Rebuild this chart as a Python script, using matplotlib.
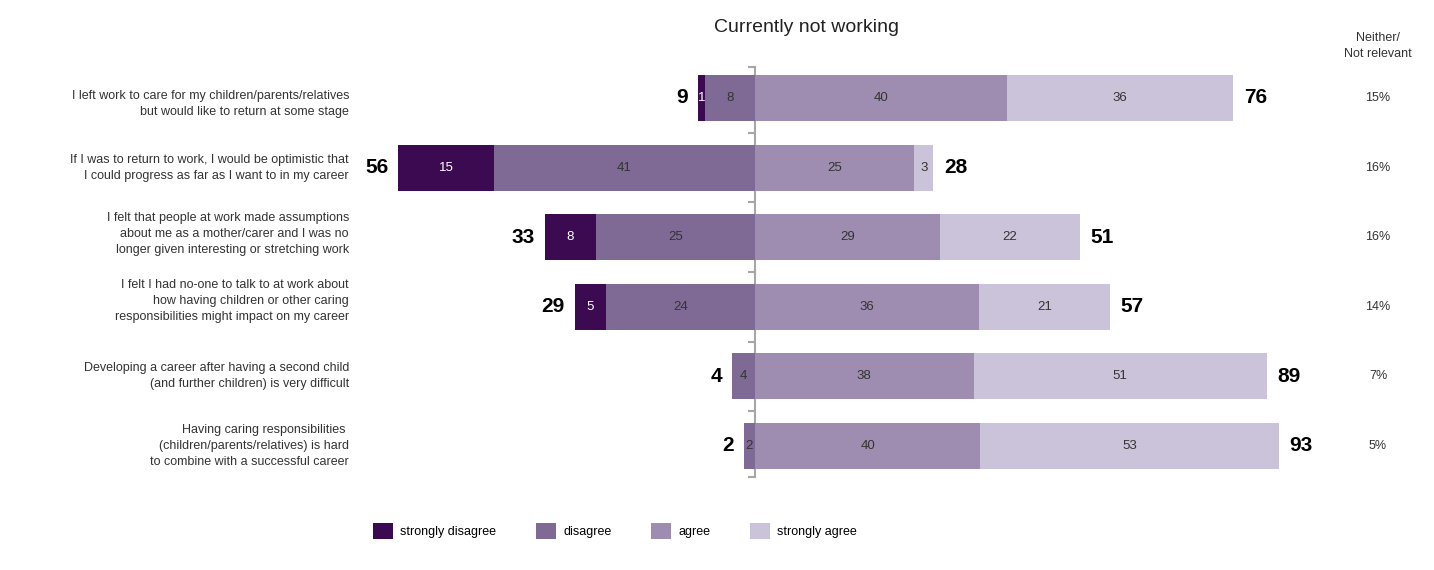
import matplotlib
matplotlib.use('Agg')
import matplotlib.pyplot as plt
from matplotlib.patches import Patch
import numpy as np

plt.rcParams['font.family'] = ['Liberation Sans', 'DejaVu Sans']

# survey statements, top to bottom
statements = [
    "I left work to care for my children/parents/relatives\nbut would like to return at some stage",
    "If I was to return to work, I would be optimistic that\nI could progress as far as I want to in my career",
    "I felt that people at work made assumptions\nabout me as a mother/carer and I was no\nlonger given interesting or stretching work",
    "I felt I had no-one to talk to at work about\nhow having children or other caring\nresponsibilities might impact on my career",
    "Developing a career after having a second child\n(and further children) is very difficult",
    "Having caring responsibilities \n(children/parents/relatives) is hard\nto combine with a successful career",
]
strongly_disagree = [1, 15, 8, 5, 0, 0]
disagree = [8, 41, 25, 24, 4, 2]
agree = [40, 25, 29, 36, 38, 40]
strongly_agree = [36, 3, 22, 21, 51, 53]
neg_total = [9, 56, 33, 29, 4, 2]
pos_total = [76, 28, 51, 57, 89, 93]
neither = [15, 16, 16, 14, 7, 5]

series_names = ["strongly disagree", "disagree", "agree", "strongly agree"]
colors = ["#3b0a50", "#7f6a95", "#9e8db0", "#cbc3da"]
label_colors = ["white", "#333333", "#333333", "#333333"]

W, H = 1434, 570
fig = plt.figure(figsize=(W / 100, H / 100), dpi=100)

# bars are shown as shares of those who expressed an opinion
vals = np.array([strongly_disagree, disagree, agree, strongly_agree], dtype=float)
shares = vals / vals.sum(axis=0) * 100

px_per_unit = 5.35
zero_px = 755
row_h = 69.6
top_px = 98 - row_h / 2
ax = fig.add_axes([0, 1 - (top_px + 6 * row_h) / H, 1, 6 * row_h / H])
ax.set_xlim(-zero_px / px_per_unit, (W - zero_px) / px_per_unit)
ax.set_ylim(5.5, -0.5)

y = np.arange(len(statements))
bar_h = 0.66


def seg_labels(left, width, idx):
    for i in range(len(y)):
        if vals[idx, i] > 0:
            ax.text(left[i] + width[i] / 2, y[i], f"{int(vals[idx, i])}",
                    ha='center', va='center', fontsize=9.5, color=label_colors[idx], zorder=3)


# negative side: disagree next to zero, strongly disagree outside
left = np.zeros(len(y))
for idx in [1, 0]:
    left = left - shares[idx]
    ax.barh(y, shares[idx], left=left, height=bar_h, color=colors[idx], zorder=2)
    seg_labels(left, shares[idx], idx)

left = np.zeros(len(y))
for idx in [2, 3]:
    ax.barh(y, shares[idx], left=left, height=bar_h, color=colors[idx], zorder=2)
    seg_labels(left, shares[idx], idx)
    left = left + shares[idx]

neg_len = shares[0] + shares[1]
pos_len = shares[2] + shares[3]
for i in range(len(y)):
    ax.text(-neg_len[i] - 1.9, y[i], f"{neg_total[i]}", ha='right', va='center',
            fontsize=15, fontweight='bold', color='black')
    ax.text(pos_len[i] + 2.0, y[i], f"{pos_total[i]}", ha='left', va='center',
            fontsize=15, fontweight='bold', color='black')

# zero axis with ticks between rows
for s in ['top', 'right', 'bottom']:
    ax.spines[s].set_visible(False)
ax.spines['left'].set_position(('data', 0))
ax.spines['left'].set_color('#a6a6a6')
ax.spines['left'].set_linewidth(1.5)
ax.spines['left'].set_zorder(1)
ax.spines['left'].set_bounds(5.45, -0.45)
ax.set_yticks([-0.45, 0.5, 1.5, 2.5, 3.5, 4.5, 5.45])
ax.set_yticklabels([])
ax.tick_params(axis='y', direction='out', length=5, width=1.5, color='#a6a6a6')
ax.set_xticks([])

# statement labels and "neither" column
label_shift = [0.09, 0, -0.05, -0.08, 0, 0]
for i, s in enumerate(statements):
    ax.text(349 / W, y[i] + label_shift[i], s, transform=ax.get_yaxis_transform(),
            ha='right', va='center', fontsize=9, color='#333333', linespacing=1.45)
    ax.text(1378 / W, y[i], f"{neither[i]}%", transform=ax.get_yaxis_transform(),
            ha='center', va='center', fontsize=9, color='#333333')

fig.text(1378 / W, 1 - 46 / H, "Neither/\nNot relevant", ha='center', va='center',
         fontsize=9, color='#333333', linespacing=1.55)
fig.text(806 / W, 1 - 27 / H, "Currently not working", ha='center', va='center',
         fontsize=14, color='#222222')

handles = [Patch(facecolor=c, edgecolor='none') for c in colors]
fig.legend(handles, series_names, loc='center left', bbox_to_anchor=(362 / W, 1 - 531 / H),
           ncol=4, frameon=False, fontsize=9, handlelength=1.55, handleheight=1.55,
           handletextpad=0.6, columnspacing=3.2)

fig.savefig("out.png", dpi=100)
